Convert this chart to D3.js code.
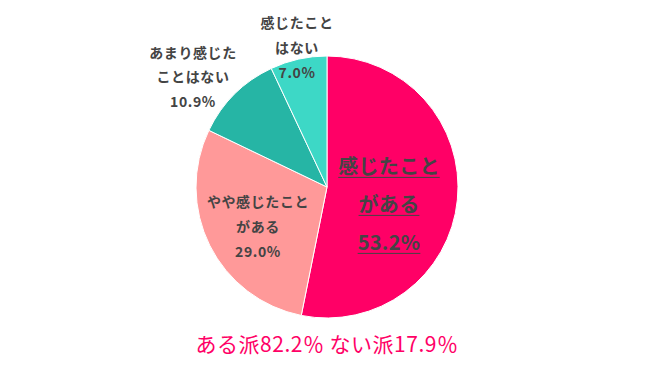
<!DOCTYPE html>
<html><head><meta charset="utf-8">
<script src="https://cdn.jsdelivr.net/npm/d3@7"></script>
<style>body{margin:0;background:#fff}svg{display:block}text{font-family:"Noto Sans CJK JP","Noto Sans",sans-serif}</style>
</head><body>
<script>
const categories = ["感じたことがある","やや感じたことがある","あまり感じたことはない","感じたことはない"];
const values = [53.2, 29.0, 10.9, 7.0];
const labelLines = [["感じたこと","がある","53.2%"],["やや感じたこと","がある","29.0%"],["あまり感じた","ことはない","10.9%"],["感じたこと","はない","7.0%"]];
const colors = ["#ff0066","#ff9999","#26b5a5","#3dd8c6"];
const footer = "ある派82.2％ ない派17.9％";

const W=650,H=382,cx=327,cy=187,R=131;
const svg=d3.select("body").append("svg").attr("width",W).attr("height",H);
const g=svg.append("g").attr("transform",`translate(${cx},${cy})`);
const pie=d3.pie().sort(null).value(d=>d)(values);
const arc=d3.arc().innerRadius(0).outerRadius(R);
g.selectAll("path").data(pie).join("path").attr("d",arc).attr("fill",(d,i)=>colors[i]).attr("stroke","#fff").attr("stroke-width",1);

const cfg=[{fs:20,lh:38,ls:0.3,under:true,x:389,y:203},{fs:14,lh:25,ls:0.6,x:258,y:226},{fs:14,lh:24.5,ls:0.6,x:193,y:76},{fs:14,lh:25,ls:0.6,x:297,y:47}];
pie.forEach((d,i)=>{
  const c=cfg[i];
  const x=c.x-cx, y=c.y-cy;
  const n=labelLines[i].length;
  labelLines[i].forEach((t,j)=>{
    const yy=y+(j-(n-1)/2)*c.lh;
    const tx=g.append("text").attr("x",x).attr("y",yy).attr("text-anchor","middle").attr("dominant-baseline","central")
      .attr("font-size",c.fs).attr("font-weight","bold").attr("letter-spacing",c.ls).attr("fill","#444").text(t);
    if(c.under){
      const w=tx.node().getComputedTextLength();
      g.append("line").attr("x1",x-w/2).attr("x2",x+w/2).attr("y1",yy+c.fs*0.62).attr("y2",yy+c.fs*0.62).attr("stroke","#444").attr("stroke-width",1);
    }
  });
});
svg.append("text").attr("x",cx).attr("y",343).attr("text-anchor","middle").attr("dominant-baseline","central")
  .attr("font-size",21).attr("letter-spacing",0.5).attr("fill","#ff0066").text(footer);
</script>
</body></html>
